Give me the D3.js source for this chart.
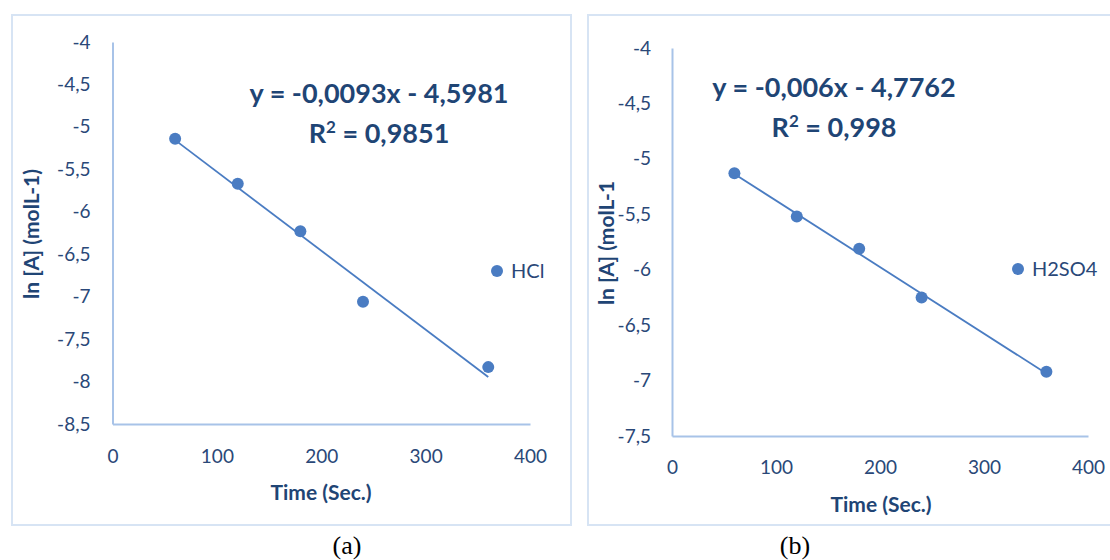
<!DOCTYPE html>
<html>
<head>
<meta charset="utf-8">
<script src="https://cdn.jsdelivr.net/npm/d3@7"></script>
<style>
body { margin: 0; background: #fff; }
svg text { font-family: Lato, "Open Sans", sans-serif; }
</style>
</head>
<body>
<script>
// chart (a) HCl
const timesA = [60, 120, 180, 240, 360];
const lnA_HCl = [-5.14, -5.67, -6.23, -7.06, -7.83];
const yTicksA = [-4, -4.5, -5, -5.5, -6, -6.5, -7, -7.5, -8, -8.5];
const fitA = { slope: -0.0093, intercept: -4.5981 };

// chart (b) H2SO4
const timesB = [60, 120, 180, 240, 360];
const lnA_H2SO4 = [-5.13, -5.52, -5.81, -6.25, -6.92];
const yTicksB = [-4, -4.5, -5, -5.5, -6, -6.5, -7, -7.5];
const fitB = { slope: -0.006, intercept: -4.7762 };

const xTicks = [0, 100, 200, 300, 400];

function main() {
    const svg = d3.select("body").append("svg")
        .attr("width", 1110)
        .attr("height", 560);

    const tickColor = "#2a4878";
    const titleColor = "#1f4575";
    const dotColor = "#4a7cc2";
    const axisColor = "#a8c3e8";
    const frameColor = "#d7e4f4";

    const fmt = d => String(d).replace(".", ",");

    function drawChart(opt) {
        // frame
        svg.append("rect")
            .attr("x", opt.frame[0]).attr("y", opt.frame[1])
            .attr("width", opt.frame[2]).attr("height", opt.frame[3])
            .attr("fill", "none")
            .attr("stroke", frameColor)
            .attr("stroke-width", 2);

        const x = d3.scaleLinear().domain([0, 400]).range([opt.left, opt.right]);
        const y = d3.scaleLinear().domain(opt.yDomain).range([opt.bottom, opt.top]);

        const g = svg.append("g");

        // axes, no tick marks
        g.append("g")
            .attr("transform", "translate(0," + opt.bottom + ")")
            .call(d3.axisBottom(x).tickValues(xTicks).tickSize(0).tickPadding(opt.xPad))
            .call(a => a.select(".domain").attr("stroke", axisColor).attr("stroke-width", 2))
            .call(a => a.selectAll("text")
                .attr("fill", tickColor)
                .style("font-size", "19px")
                .style("font-family", "Lato, sans-serif"));

        g.append("g")
            .attr("transform", "translate(" + opt.left + ",0)")
            .call(d3.axisLeft(y).tickValues(opt.yTicks).tickFormat(fmt).tickSize(0).tickPadding(opt.yPad))
            .call(a => a.select(".domain").attr("stroke", axisColor).attr("stroke-width", 2))
            .call(a => a.selectAll("text")
                .attr("fill", tickColor)
                .style("font-size", "19px")
                .style("font-family", "Lato, sans-serif"));

        // axis titles
        svg.append("text")
            .attr("x", opt.xTitle[0])
            .attr("y", opt.xTitle[1])
            .attr("text-anchor", "middle")
            .attr("dy", "0.35em")
            .attr("fill", titleColor)
            .style("font-size", "21px")
            .style("font-weight", "bold")
            .text("Time (Sec.)");

        svg.append("text")
            .attr("transform", "translate(" + opt.yTitle[0] + "," + opt.yTitle[1] + ") rotate(-90)")
            .attr("text-anchor", "middle")
            .attr("dy", "0.35em")
            .attr("fill", titleColor)
            .style("font-size", "21px")
            .style("font-weight", "bold")
            .text(opt.yLabel);

        // trendline over the data range
        const x0 = d3.min(opt.xs), x1 = d3.max(opt.xs);
        g.append("line")
            .attr("x1", x(x0)).attr("y1", y(opt.fit.slope * x0 + opt.fit.intercept))
            .attr("x2", x(x1)).attr("y2", y(opt.fit.slope * x1 + opt.fit.intercept))
            .attr("stroke", dotColor)
            .attr("stroke-width", 1.8);

        // points
        g.selectAll(".dot")
            .data(opt.xs.map((t, i) => [t, opt.ys[i]]))
            .enter()
            .append("circle")
            .attr("cx", d => x(d[0]))
            .attr("cy", d => y(d[1]))
            .attr("r", 6)
            .attr("fill", dotColor);

        // equation
        svg.append("text")
            .attr("x", opt.eq[0]).attr("y", opt.eq[1])
            .attr("text-anchor", "middle")
            .attr("fill", titleColor)
            .style("font-size", "27px")
            .style("font-weight", "bold")
            .text(opt.eqText);
        const r2 = svg.append("text")
            .attr("x", opt.eq[0]).attr("y", opt.eq[1] + 40)
            .attr("text-anchor", "middle")
            .attr("fill", titleColor)
            .style("font-size", "27px")
            .style("font-weight", "bold");
        r2.append("tspan").text("R");
        r2.append("tspan").attr("font-size", "17px").attr("dy", -10).text("2");
        r2.append("tspan").attr("dy", 10).text(" = " + opt.r2Text);

        // legend
        svg.append("circle")
            .attr("cx", opt.legend[0]).attr("cy", opt.legend[1])
            .attr("r", 6)
            .attr("fill", dotColor);
        svg.append("text")
            .attr("x", opt.legend[0] + 14).attr("y", opt.legend[1])
            .attr("dy", "0.35em")
            .attr("fill", tickColor)
            .style("font-size", "20px")
            .text(opt.series);

        // caption
        svg.append("text")
            .attr("x", opt.caption[0]).attr("y", 545)
            .attr("text-anchor", "middle")
            .attr("dy", "0.35em")
            .attr("fill", "#000")
            .style("font-family", "'Liberation Serif', 'Times New Roman', serif")
            .style("font-size", "26px")
            .text(opt.captionText);
    }

    drawChart({
        frame: [12, 15, 559, 510],
        left: 112.5, right: 530, top: 42, bottom: 424,
        xPad: 26, yPad: 22,
        yDomain: [-8.5, -4], yTicks: yTicksA,
        xs: timesA, ys: lnA_HCl, fit: fitA,
        xTitle: [321, 493], yTitle: [32, 234], yLabel: "ln [A] (molL-1)",
        eq: [379, 103], eqText: "y = -0,0093x - 4,5981", r2Text: "0,9851",
        legend: [497, 271], series: "HCl",
        caption: [347, 545], captionText: "(a)"
    });

    drawChart({
        frame: [588, 15, 540, 510],
        left: 672, right: 1088, top: 48, bottom: 436,
        xPad: 25, yPad: 21,
        yDomain: [-7.5, -4], yTicks: yTicksB,
        xs: timesB, ys: lnA_H2SO4, fit: fitB,
        xTitle: [881, 505], yTitle: [607, 243], yLabel: "ln [A] (molL-1",
        eq: [834, 97], eqText: "y = -0,006x - 4,7762", r2Text: "0,998",
        legend: [1018, 269], series: "H2SO4",
        caption: [795, 545], captionText: "(b)"
    });
}
main();
</script>
</body>
</html>
